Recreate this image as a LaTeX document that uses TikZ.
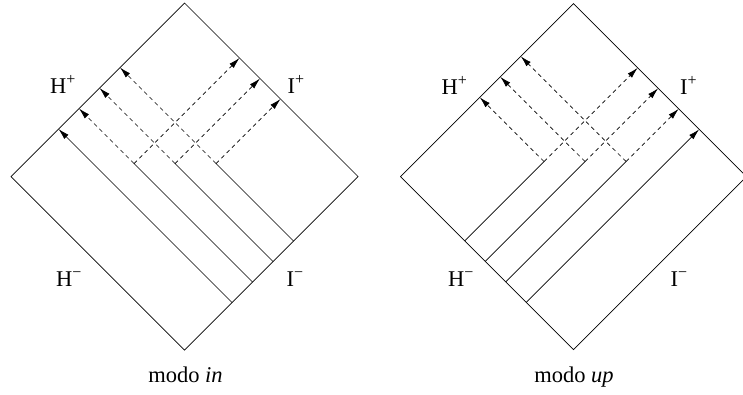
\documentclass[tikz,border=0pt]{standalone}
\usepackage{fontspec}
\setmainfont{Liberation Serif}
\usetikzlibrary{arrows.meta}
\newcommand{\supsign}[1]{\raisebox{0.38em}{\fontsize{16}{16}\selectfont #1}}
\begin{document}
\begin{tikzpicture}[x=1pt,y=-1pt,
  frame/.style={line width=0.7pt, line join=miter},
  ray/.style={line width=0.7pt},
  dray/.style={line width=0.7pt, dash pattern=on 4pt off 3.5pt},
  tip/.style={-{Latex[length=11pt,width=6pt]}},
  lab/.style={font=\fontsize{22.5}{26}\selectfont, inner sep=0pt}]
\useasboundingbox (0,0) rectangle (743,394);
% ---------- left diagram (modo in) ----------
\coordinate (lT) at (184.5,3);
\coordinate (lR) at (358,176.5);
\coordinate (lB) at (184.5,350);
\coordinate (lL) at (11,176.5);
\draw[frame] (lT) -- (lR) -- (lB) -- (lL) -- cycle;
% starts on I-
\coordinate (lS1) at (232,302.5);
\coordinate (lS2) at (252.5,282);
\coordinate (lS3) at (273,261.5);
\coordinate (lS4) at (293.5,241);
% ends on H+
\coordinate (lH1) at (58.5,129);
\coordinate (lH2) at (79,108.5);
\coordinate (lH3) at (99.5,88);
\coordinate (lH4) at (120,67.5);
% corners
\coordinate (lC2) at (134,163.5);
\coordinate (lC3) at (175,163.5);
\coordinate (lC4) at (216,163.5);
% ends on I+
\coordinate (lI2) at (239.5,58);
\coordinate (lI3) at (260,78.5);
\coordinate (lI4) at (280.5,99);
\draw[ray,tip] (lS1) -- (lH1);
\draw[ray] (lS2) -- (lC2);
\draw[ray] (lS3) -- (lC3);
\draw[ray] (lS4) -- (lC4);
\draw[dray,tip] (lC2) -- (lH2);
\draw[dray,tip] (lC3) -- (lH3);
\draw[dray,tip] (lC4) -- (lH4);
\draw[dray,tip] (lC2) -- (lI2);
\draw[dray,tip] (lC3) -- (lI3);
\draw[dray,tip] (lC4) -- (lI4);
\node[lab,anchor=base west] (lHp) at (50,93.5) {H\supsign{+}};
\node[lab,anchor=base west] (lIp) at (287.5,93.5) {I\supsign{+}};
\node[lab,anchor=base west] (lHm) at (56,286.5) {H\supsign{−}};
\node[lab,anchor=base west] (lIm) at (286.5,286.5) {I\supsign{−}};
\node[lab,anchor=base] (lcap) at (185.5,382.7) {modo \textit{in}};
% ---------- right diagram (modo up) ----------
\coordinate (rT) at (573.5,3.7);
\coordinate (rR) at (746.5,176.7);
\coordinate (rB) at (573.5,349.7);
\coordinate (rL) at (400.5,176.7);
\draw[frame] (rT) -- (rR) -- (rB) -- (rL) -- cycle;
% starts on H-
\coordinate (rS1) at (464.65,240.85);
\coordinate (rS2) at (485.15,261.35);
\coordinate (rS3) at (505.65,281.85);
\coordinate (rS4) at (526.15,302.35);
% corners
\coordinate (rC1) at (544,161.5);
\coordinate (rC2) at (585,161.5);
\coordinate (rC3) at (626,161.5);
% ends on H+
\coordinate (rH1) at (479.75,97.35);
\coordinate (rH2) at (500.25,76.85);
\coordinate (rH3) at (520.75,56.35);
% ends on I+
\coordinate (rI1) at (637.65,67.85);
\coordinate (rI2) at (658.15,88.35);
\coordinate (rI3) at (678.65,108.85);
\coordinate (rI4) at (699.15,129.35);
\draw[ray] (rS1) -- (rC1);
\draw[ray] (rS2) -- (rC2);
\draw[ray] (rS3) -- (rC3);
\draw[ray,tip] (rS4) -- (rI4);
\draw[dray,tip] (rC1) -- (rH1);
\draw[dray,tip] (rC2) -- (rH2);
\draw[dray,tip] (rC3) -- (rH3);
\draw[dray,tip] (rC1) -- (rI1);
\draw[dray,tip] (rC2) -- (rI2);
\draw[dray,tip] (rC3) -- (rI3);
\node[lab,anchor=base west] (rHp) at (441.5,94) {H\supsign{+}};
\node[lab,anchor=base west] (rIp) at (680,94) {I\supsign{+}};
\node[lab,anchor=base west] (rHm) at (448,286.5) {H\supsign{−}};
\node[lab,anchor=base west] (rIm) at (670.5,286.5) {I\supsign{−}};
\node[lab,anchor=base] (rcap) at (574,382.7) {modo \textit{up}};
\end{tikzpicture}
\end{document}
